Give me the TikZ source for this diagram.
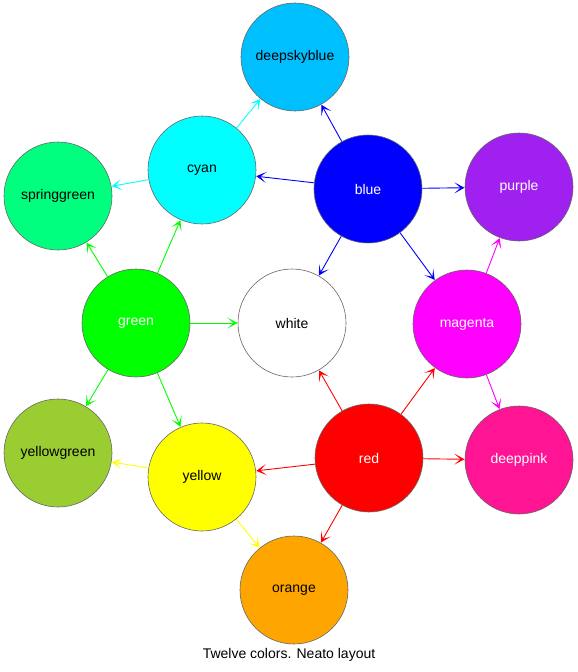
\documentclass[tikz,border=0pt]{standalone}
\usepackage{fontspec}
\setmainfont{Liberation Sans}
\usetikzlibrary{arrows.meta}
\definecolor{cdeepskyblue}{RGB}{0,191,255}
\definecolor{ccyan}{RGB}{0,255,255}
\definecolor{cblue}{RGB}{0,0,255}
\definecolor{cpurple}{RGB}{160,32,240}
\definecolor{cspringgreen}{RGB}{0,255,127}
\definecolor{cgreen}{RGB}{0,255,0}
\definecolor{cmagenta}{RGB}{255,0,255}
\definecolor{cyellowgreen}{RGB}{154,205,50}
\definecolor{cyellow}{RGB}{255,255,0}
\definecolor{cred}{RGB}{255,0,0}
\definecolor{cdeeppink}{RGB}{255,20,147}
\definecolor{corange}{RGB}{255,165,0}
\tikzset{
  col/.style={circle, minimum size=108pt, inner sep=0pt, draw=black!60, line width=0.6pt, font=\fontsize{14pt}{16pt}\selectfont},
  wt/.style={text=white},
  edge/.style={line width=0.9pt, -{Stealth[length=10pt, width=11pt, inset=6pt]}, shorten >=0.3pt},
}
\begin{document}
\begin{tikzpicture}[x=1pt, y=-1pt]
\useasboundingbox (0,0) rectangle (578,672);
\node[col, fill=cdeepskyblue] (deepskyblue) at (295,57) {deepskyblue};
\node[col, fill=ccyan] (cyan) at (202,170) {cyan};
\node[col, fill=cblue, wt] (blue) at (368,189) {blue};
\node[col, fill=cpurple, wt] (purple) at (519,187) {purple};
\node[col, fill=cspringgreen] (springgreen) at (58,196) {springgreen};
\node[col, fill=cgreen, wt] (green) at (136,323) {green};
\node[col, fill=white] (white) at (292,323) {white};
\node[col, fill=cmagenta, wt] (magenta) at (467,324) {magenta};
\node[col, fill=cyellowgreen] (yellowgreen) at (58,453) {yellowgreen};
\node[col, fill=cyellow] (yellow) at (202,477) {yellow};
\node[col, fill=cred, wt] (red) at (369,458) {red};
\node[col, fill=cdeeppink, wt] (deeppink) at (519,460) {deeppink};
\node[col, fill=corange] (orange) at (294,590) {orange};
\node[font=\fontsize{14pt}{16pt}\selectfont] (caption) at (289,655) {Twelve colors. Neato layout};

\draw[edge, ccyan] (cyan) -- (deepskyblue);
\draw[edge, ccyan] (cyan) -- (springgreen);
\draw[edge, cblue] (blue) -- (deepskyblue);
\draw[edge, cblue] (blue) -- (cyan);
\draw[edge, cblue] (blue) -- (purple);
\draw[edge, cblue] (blue) -- (white);
\draw[edge, cblue] (blue) -- (magenta);
\draw[edge, cgreen] (green) -- (springgreen);
\draw[edge, cgreen] (green) -- (cyan);
\draw[edge, cgreen] (green) -- (white);
\draw[edge, cgreen] (green) -- (yellowgreen);
\draw[edge, cgreen] (green) -- (yellow);
\draw[edge, cmagenta] (magenta) -- (purple);
\draw[edge, cmagenta] (magenta) -- (deeppink);
\draw[edge, cred] (red) -- (white);
\draw[edge, cred] (red) -- (magenta);
\draw[edge, cred] (red) -- (yellow);
\draw[edge, cred] (red) -- (deeppink);
\draw[edge, cred] (red) -- (orange);
\draw[edge, cyellow] (yellow) -- (yellowgreen);
\draw[edge, cyellow] (yellow) -- (orange);
\end{tikzpicture}
\end{document}
